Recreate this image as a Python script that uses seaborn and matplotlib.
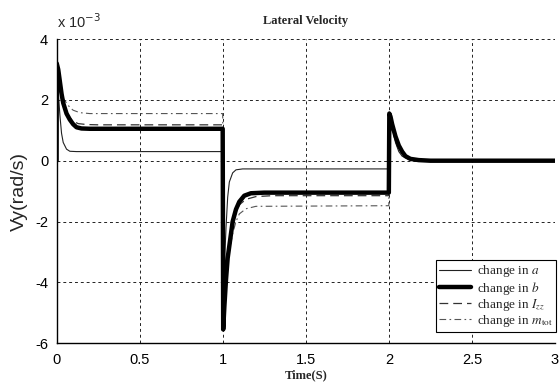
import matplotlib
matplotlib.use("Agg")
import matplotlib.pyplot as plt
import seaborn as sns

# ---- data (values in units of 1e-3 rad/s) ----
t_a = [0, 0.001, 0.01, 0.02, 0.03, 0.04, 0.06, 0.08, 0.12, 1.0,
       1.003, 1.01, 1.02, 1.03, 1.04, 1.06, 1.08, 1.12, 2.0,
       2.003, 2.02, 2.04, 2.06, 2.08, 2.12, 2.2, 3.0]
v_a = [0, 3.0, 2.3, 1.5, 0.9, 0.6, 0.38, 0.31, 0.3, 0.3,
       -5.0, -3.5, -2.2, -1.2, -0.7, -0.4, -0.3, -0.27, -0.27,
       1.6, 1.1, 0.6, 0.3, 0.15, 0.04, 0.0, 0.0]

t_b = [0, 0.001, 0.01, 0.02, 0.03, 0.04, 0.06, 0.08, 0.1, 0.12, 0.15, 0.2, 1.0,
       1.003, 1.01, 1.02, 1.03, 1.045, 1.06, 1.08, 1.1, 1.13, 1.17, 1.25, 2.0,
       2.003, 2.01, 2.02, 2.04, 2.06, 2.08, 2.1, 2.13, 2.18, 2.25, 3.0]
v_b = [0, 3.2, 3.0, 2.6, 2.2, 1.9, 1.55, 1.35, 1.2, 1.1, 1.06, 1.05, 1.05,
       -5.55, -4.8, -3.9, -3.2, -2.6, -2.0, -1.6, -1.35, -1.15, -1.07, -1.05, -1.05,
       1.55, 1.45, 1.2, 0.8, 0.5, 0.3, 0.15, 0.06, 0.02, 0.0, 0.0]

t_izz = [0, 0.001, 0.01, 0.02, 0.04, 0.06, 0.08, 0.1, 0.13, 0.18, 0.25, 1.0,
         1.003, 1.01, 1.02, 1.04, 1.06, 1.08, 1.1, 1.14, 1.2, 1.3, 2.0,
         2.003, 2.02, 2.04, 2.06, 2.08, 2.1, 2.14, 2.2, 2.3, 3.0]
v_izz = [0, 2.8, 2.6, 2.3, 1.9, 1.6, 1.42, 1.3, 1.22, 1.19, 1.18, 1.18,
         -5.2, -4.5, -3.6, -2.7, -2.1, -1.7, -1.45, -1.27, -1.18, -1.15, -1.15,
         1.5, 1.2, 0.8, 0.5, 0.3, 0.17, 0.06, 0.02, 0.0, 0.0]

t_m = [0, 0.001, 0.02, 0.04, 0.06, 0.08, 0.1, 0.14, 0.2, 1.0,
       1.003, 1.02, 1.04, 1.06, 1.08, 1.1, 1.14, 1.2, 2.0,
       2.003, 2.02, 2.04, 2.06, 2.08, 2.1, 2.14, 2.2, 2.3, 3.0]
v_m = [0, 2.5, 2.3, 2.05, 1.9, 1.75, 1.66, 1.58, 1.55, 1.55,
       -5.0, -3.8, -3.0, -2.4, -2.0, -1.75, -1.58, -1.5, -1.48,
       1.6, 1.25, 0.85, 0.55, 0.33, 0.18, 0.07, 0.02, 0.0, 0.0]

labels = [r"change in $a$", r"change in $b$", r"change in $I_{zz}$",
          r"change in $m_{\mathrm{tot}}$"]
x_ticks = [0, 0.5, 1, 1.5, 2, 2.5, 3]
x_ticklabels = ["0", "0.5", "1", "1.5", "2", "2.5", "3"]
y_ticks = [-6, -4, -2, 0, 2, 4]
y_ticklabels = ["-6", "-4", "-2", "0", "2", "4"]

# ---- style ----
sns.set_style("white")
plt.rcParams["font.family"] = ["Liberation Sans", "DejaVu Sans"]
plt.rcParams["mathtext.fontset"] = "stix"
plt.rcParams["axes.unicode_minus"] = False

fig = plt.figure(figsize=(5.6, 3.83), dpi=100)
ax = fig.add_axes([0.101, 0.104, 0.890, 0.794])

sns.lineplot(x=t_a, y=v_a, ax=ax, sort=False, estimator=None, color="#222222",
             linewidth=0.8, label=labels[0])
sns.lineplot(x=t_izz, y=v_izz, ax=ax, sort=False, estimator=None, color="#333333",
             linewidth=0.9, label=labels[2])
sns.lineplot(x=t_m, y=v_m, ax=ax, sort=False, estimator=None, color="#555555",
             linewidth=0.8, label=labels[3])
sns.lineplot(x=t_b, y=v_b, ax=ax, sort=False, estimator=None, color="black",
             linewidth=3.2, label=labels[1])
lines = ax.get_lines()
lines[1].set_dashes([7, 4])
lines[2].set_dashes([6, 3, 1.5, 3])

ax.set_xlim(0, 3)
ax.set_ylim(-6, 4)
ax.set_xticks(x_ticks)
ax.set_xticklabels(x_ticklabels)
ax.set_yticks(y_ticks)
ax.set_yticklabels(y_ticklabels)
ax.tick_params(axis="both", labelsize=10.5, length=3, direction="in",
               colors="black")
ax.tick_params(axis="x", pad=7)
ax.tick_params(axis="y", pad=6)
ax.grid(True, color="#222222", linestyle=(0, (3, 3)), linewidth=0.7)
for side in ["top", "right"]:
    ax.spines[side].set_visible(False)
for side in ["left", "bottom"]:
    ax.spines[side].set_color("black")
    ax.spines[side].set_linewidth(1.0)

ax.set_title("Lateral Velocity", fontsize=9, fontweight="bold",
             family=["Liberation Serif"], pad=11)
ax.set_xlabel("Time(S)", fontsize=9, fontweight="bold",
              family=["Liberation Serif"], labelpad=2)
ax.set_ylabel("Vy(rad/s)", fontsize=14, labelpad=5)
ax.text(0.0, 1.025, r"x 10$^{-3}$", transform=ax.transAxes, fontsize=10.5,
        ha="left", va="bottom", math_fontfamily="dejavusans")

h, l = ax.get_legend_handles_labels()
order = [0, 3, 1, 2]
leg = ax.legend([h[i] for i in order], [l[i] for i in order],
                loc="lower right", bbox_to_anchor=(1.003, 0.036), borderaxespad=0,
                fancybox=False, framealpha=1, edgecolor="black",
                prop={"family": "Liberation Serif", "size": 9.5},
                handlelength=2.4, handletextpad=0.5, labelspacing=0.02,
                borderpad=0.25)
leg.get_frame().set_linewidth(0.8)

fig.savefig("out.png", dpi=100)
